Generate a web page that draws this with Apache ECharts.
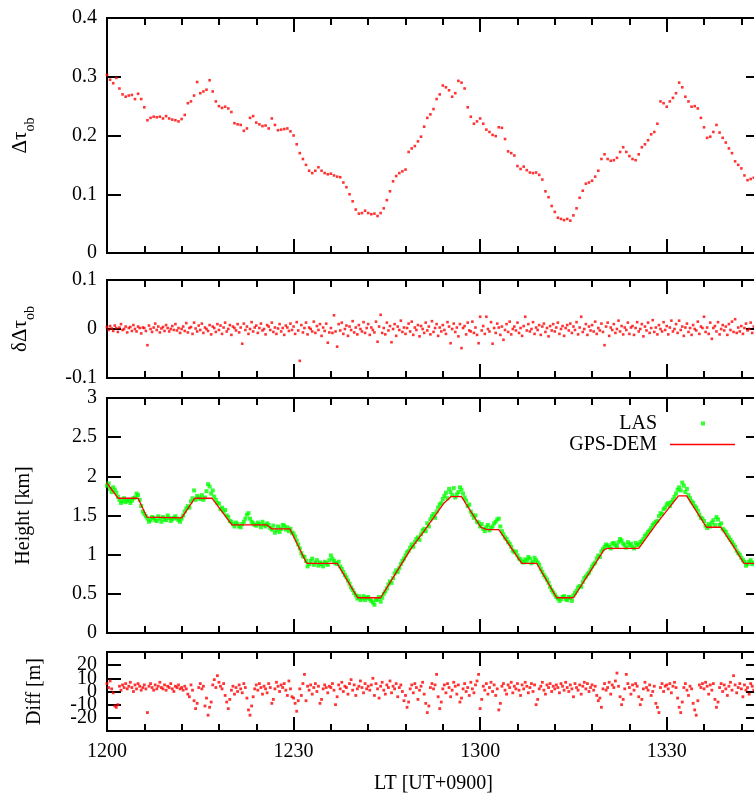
<!DOCTYPE html>
<html><head><meta charset="utf-8">
<script src="https://cdn.jsdelivr.net/npm/echarts@6/dist/echarts.min.js"></script>
<style>html,body{margin:0;padding:0;background:#fff}#c{width:754px;height:794px}</style>
</head><body><div id="c"></div><script>
// ---------------- DATA ----------------
// time in minutes after 12:00 LT
const xTickLabels = ['1200', '1230', '1300', '1330'];
const halfMinuteStep = 0.5;     // sampling of tauOb [min]
const quarterMinuteStep = 0.25; // sampling of dTauObMilli, lasHeightKm and diffM [min]

const tauOb = [
.303,.295,.289,.298,.280,.270,.266,.268,.269,.262,.271,.262,
.248,.226,.230,.232,.231,.232,.229,.233,.229,.227,.226,.224,
.228,.235,.255,.258,.268,.291,.272,.275,.278,.294,.275,.258,
.250,.247,.249,.246,.240,.221,.219,.218,.208,.212,.230,.233,
.222,.219,.216,.217,.212,.229,.218,.209,.210,.211,.212,.207,
.200,.185,.170,.160,.150,.140,.136,.140,.146,.140,.136,.134,
.135,.132,.130,.129,.120,.112,.100,.088,.074,.067,.068,.072,
.068,.066,.067,.063,.068,.076,.090,.105,.122,.131,.136,.139,
.142,.172,.178,.182,.190,.198,.215,.230,.236,.245,.262,.270,
.285,.282,.277,.266,.272,.293,.290,.280,.248,.232,.220,.224,
.229,.220,.210,.206,.201,.199,.214,.213,.194,.173,.170,.166,
.148,.143,.147,.141,.137,.136,.137,.133,.125,.105,.095,.080,
.070,.060,.058,.056,.058,.055,.064,.076,.094,.106,.118,.120,
.123,.130,.140,.160,.168,.160,.157,.158,.162,.172,.180,.172,
.165,.160,.158,.168,.180,.185,.192,.202,.206,.220,.258,.255,
.249,.258,.264,.272,.290,.282,.266,.258,.249,.250,.246,.230,
.214,.196,.198,.206,.218,.205,.196,.188,.178,.170,.156,.150,
.144,.132,.124,.126,.128];

// residual of delta tau, in units of 0.001
const dTauObMilli = [
4,-2,6,1,-4,7,2,-6,3,10,-2,0,5,-7,2,4,-4,8,0,-5,5,2,-9,3,
2,-4,-33,7,0,-6,3,11,-2,5,-7,1,4,-4,8,2,-5,0,6,-2,10,-3,2,-8,
0,5,-4,12,-7,2,4,-10,13,1,-5,7,-2,11,-8,3,0,-4,8,-11,5,2,-6,10,
-2,7,-10,3,13,-5,0,8,-12,5,2,-3,10,-7,3,-30,11,-2,5,-10,0,14,-5,3,
7,-8,2,11,-3,0,-11,8,5,-2,13,-6,3,-10,1,10,-5,2,-12,7,3,-4,11,-2,
5,-10,14,-3,-65,8,-7,2,13,-11,3,0,-5,15,-8,6,-2,10,-14,3,-4,11,-28,-7,
2,-8,28,-5,-36,10,-3,13,-10,0,7,-14,5,-2,16,-7,3,-11,8,0,-5,14,-8,2,
10,-12,3,-2,-7,15,-26,5,29,-8,2,-11,13,-3,6,-27,0,10,-14,5,-2,17,-6,3,
-10,2,11,-5,15,-12,3,-2,8,-15,6,0,-8,13,-3,5,-11,16,-6,2,10,-14,3,-5,
8,-2,-10,14,5,-29,0,11,-6,3,-15,10,-39,2,6,-11,13,-3,-5,15,-8,3,-12,-29,
25,-3,6,-10,25,0,-5,14,-30,2,-8,11,3,-12,5,-22,-2,10,-6,15,-11,0,5,-3,
13,-8,2,-14,6,25,-3,10,-5,0,14,-10,3,-2,8,-12,5,11,-6,2,-15,6,-3,10,
-5,3,13,-10,0,6,-14,2,8,-3,11,-8,5,-2,14,-11,3,25,-6,0,10,-12,5,-3,
8,-5,15,-10,2,-3,11,-6,-33,5,13,-14,3,-2,10,-8,0,17,-5,6,-11,3,-2,13,
-10,3,6,-12,2,14,-5,0,10,-15,5,-3,13,-8,2,18,-6,3,-11,8,0,-5,14,-2,
6,-11,3,17,-5,0,10,-8,17,-2,5,-14,3,11,-6,2,-12,8,0,-3,15,-10,5,2,
25,-6,3,-10,13,-20,2,6,-5,14,-11,0,8,-3,5,-12,10,-2,15,-6,20,-8,3,-5,
6,-10,2,11,-3,0,13,-8,5];

const lasHeightKm = [
1.88,1.91,1.84,1.80,1.86,1.83,1.79,1.74,1.70,1.66,1.68,1.72,1.67,1.69,1.70,1.66,1.69,1.72,1.73,1.78,1.76,1.70,1.62,1.55,
1.52,1.49,1.46,1.42,1.44,1.48,1.47,1.44,1.43,1.49,1.46,1.42,1.48,1.45,1.44,1.50,1.47,1.43,1.45,1.47,1.49,1.46,1.44,1.42,
1.46,1.50,1.55,1.59,1.62,1.60,1.68,1.72,1.82,1.70,1.75,1.73,1.71,1.76,1.70,1.73,1.81,1.90,1.87,1.78,1.82,1.74,1.70,1.66,
1.65,1.58,1.60,1.55,1.57,1.50,1.48,1.43,1.42,1.39,1.36,1.41,1.39,1.36,1.35,1.39,1.42,1.46,1.51,1.53,1.46,1.42,1.40,1.38,
1.37,1.41,1.39,1.35,1.42,1.38,1.36,1.40,1.38,1.34,1.32,1.37,1.28,1.31,1.36,1.29,1.33,1.38,1.37,1.32,1.35,1.30,1.33,1.28,
1.27,1.23,1.18,1.13,1.08,1.02,0.98,0.97,0.92,0.85,0.88,0.92,0.95,0.87,0.90,0.93,0.86,0.90,0.88,0.85,0.91,0.89,0.87,0.93,
0.99,0.95,0.92,0.89,0.88,0.91,0.85,0.82,0.78,0.74,0.71,0.67,0.63,0.58,0.55,0.51,0.48,0.44,0.47,0.42,0.44,0.47,0.42,0.45,
0.46,0.43,0.41,0.39,0.36,0.42,0.43,0.46,0.40,0.45,0.50,0.53,0.57,0.62,0.66,0.64,0.70,0.76,0.80,0.78,0.83,0.88,0.92,0.95,
0.99,1.03,1.05,1.09,1.13,1.10,1.16,1.20,1.22,1.19,1.26,1.31,1.33,1.30,1.40,1.36,1.45,1.49,1.52,1.47,1.55,1.60,1.64,1.66,
1.71,1.75,1.79,1.72,1.84,1.80,1.76,1.85,1.73,1.77,1.80,1.86,1.83,1.78,1.73,1.69,1.62,1.64,1.55,1.51,1.47,1.50,1.42,1.41,
1.36,1.39,1.33,1.30,1.35,1.38,1.31,1.34,1.36,1.40,1.42,1.45,1.46,1.36,1.30,1.26,1.22,1.20,1.16,1.14,1.10,1.05,1.03,1.04,
0.99,0.95,0.94,0.91,0.90,0.94,0.92,0.97,0.95,0.89,0.91,0.96,0.93,0.90,0.87,0.82,0.78,0.74,0.71,0.68,0.64,0.59,0.55,0.52,
0.49,0.46,0.44,0.41,0.43,0.46,0.47,0.43,0.42,0.46,0.45,0.41,0.48,0.51,0.54,0.58,0.60,0.59,0.65,0.70,0.72,0.75,0.77,0.81,
0.85,0.88,0.90,0.95,0.99,0.97,1.04,1.07,1.10,1.13,1.12,1.10,1.08,1.14,1.15,1.12,1.11,1.16,1.20,1.18,1.14,1.12,1.09,1.16,
1.12,1.14,1.10,1.08,1.15,1.12,1.13,1.16,1.17,1.20,1.24,1.26,1.29,1.31,1.34,1.38,1.40,1.42,1.43,1.49,1.53,1.52,1.58,1.60,
1.64,1.66,1.62,1.67,1.70,1.74,1.78,1.83,1.86,1.82,1.92,1.88,1.80,1.84,1.76,1.72,1.68,1.66,1.62,1.60,1.56,1.51,1.47,1.46,
1.43,1.37,1.34,1.39,1.36,1.41,1.44,1.38,1.48,1.45,1.38,1.40,1.33,1.31,1.29,1.25,1.22,1.19,1.16,1.13,1.10,1.05,1.02,1.00,
0.96,0.93,0.91,0.86,0.88,0.91,0.93,0.88,0.90];

const gpsDemTimes = [0,1.8,5,6.4,12,14.1,16.9,20.1,25.7,26.5,29.4,32.1,37,37.9,40.3,44,46.1,48.9,50.9,54.2,55.3,57,60.1,61.1,63,66.7,69.1,72.3,75,79.9,80.4,85.5,88.4,91.1,91.9,93.2,96.4,98.7,100.8,102.4,105];
const gpsDemHeightKm = [1.915,1.72,1.72,1.48,1.47,1.72,1.72,1.38,1.38,1.33,1.33,0.89,0.89,0.77,0.45,0.45,0.72,1.08,1.29,1.66,1.74,1.74,1.35,1.32,1.32,0.89,0.89,0.45,0.45,1.06,1.08,1.08,1.40,1.67,1.75,1.75,1.35,1.35,1.10,0.89,0.89];

const diffM = [
6,3,8,2,-1,-11,-12,-10,4,1,5,3,6,2,4,7,3,0,5,2,6,4,1,3,
5,2,-16,4,6,3,1,5,2,4,7,3,2,5,1,4,3,6,2,0,4,3,5,2,
3,1,4,2,-2,-4,5,1,-7,-13,-9,3,6,2,4,-11,-5,-18,-12,-8,5,9,3,12,
7,4,2,6,-3,-8,-13,-6,1,4,-2,3,0,5,2,-1,6,3,-5,-14,-18,-11,-4,2,
5,1,6,3,-2,4,2,-1,6,3,-9,-6,2,7,4,0,5,3,6,1,-3,8,2,-4,
-5,-9,-15,-7,2,-3,6,13,-7,4,1,5,-2,3,6,0,4,-9,-6,2,5,3,-1,4,
3,6,1,-10,-4,5,2,7,0,4,3,-2,6,9,1,5,-3,2,4,8,3,-1,6,2,
4,1,5,10,-3,6,2,-5,4,7,1,-2,5,3,8,-1,4,2,6,-4,3,5,0,-7,
-3,-12,-8,2,5,-1,6,3,-6,1,4,7,-2,-9,-16,-11,3,6,2,5,13,-4,-13,-8,
2,5,-1,6,3,-4,1,7,4,-2,5,-8,-5,2,6,0,3,-3,7,2,-1,5,8,13,
-13,-6,4,1,6,-2,3,7,0,5,-3,2,-14,-9,4,6,1,-2,5,3,7,-1,4,2,
6,1,-3,5,2,7,4,-1,3,6,0,5,-10,-6,2,4,7,1,-2,5,3,6,0,4,
2,5,3,-1,6,4,1,7,3,0,5,2,-4,6,3,1,5,-2,4,7,2,6,0,3,
5,1,4,-3,-7,-5,-12,2,6,1,3,7,-2,5,3,8,14,4,-4,-10,-6,2,13,6,
3,-2,5,1,6,4,-4,-10,-6,2,7,3,1,5,-3,0,4,-9,-12,-16,3,6,0,4,
5,2,6,-1,4,7,3,-5,-12,-16,-8,3,6,1,-3,4,2,-9,-14,-18,-7,5,3,6,
2,7,4,-2,5,1,6,-6,-12,-8,3,6,0,5,2,-3,4,7,1,12,5,-1,3,6,
2,-4,5,1,3,-2,6,4,1];

// ---------------- CHART ----------------
const FONT = 'Liberation Serif';
const X_MAX = 105;
const grids = [
  {top: 18, height: 235},
  {top: 280, height: 98},
  {top: 398, height: 235},
  {top: 652, height: 79}
];
const subRich = {
  m: {fontFamily: FONT, fontSize: 21, color: '#000', verticalAlign: 'bottom', padding: [0, 0, 6, 0]},
  s: {fontFamily: FONT, fontSize: 14, color: '#000', verticalAlign: 'bottom'}
};
const yCfg = [
  {min: 0, max: 0.4, interval: 0.1, name: '{m|Δτ}{s|ob}', gap: 70, hideEnds: false},
  {min: -0.1, max: 0.1, interval: 0.1, name: '{m|δΔτ}{s|ob}', gap: 70, hideEnds: false},
  {min: 0, max: 3, interval: 0.5, name: 'Height [km]', gap: 73, hideEnds: false},
  {min: -30, max: 30, interval: 10, name: 'Diff [m]', gap: 62, hideEnds: true}
];
const tickStyle = {color: '#000', width: 2};
const xAxes = [], yAxes = [];
grids.forEach((g, i) => {
  const last = i === 3;
  const base = {gridIndex: i, type: 'value', min: 0, max: X_MAX,
    axisLine: {show: false, onZero: false}, splitLine: {show: false}};
  ['bottom', 'top'].forEach(pos => {
    xAxes.push(Object.assign({}, base, {
      position: pos, interval: 30,
      axisTick: {inside: true, length: 14, lineStyle: tickStyle},
      axisLabel: {show: last && pos === 'bottom', showMaxLabel: false, margin: 11,
        fontFamily: FONT, fontSize: 20, color: '#000',
        formatter: v => xTickLabels[Math.round(v / 30)] || ''},
      name: (last && pos === 'bottom') ? 'LT [UT+0900]' : '',
      nameLocation: 'middle', nameGap: 43, nameMoveOverlap: false,
      nameTextStyle: {fontFamily: FONT, fontSize: 20, color: '#000'}
    }));
    xAxes.push(Object.assign({}, base, {
      position: pos, interval: 6,
      axisTick: {inside: true, length: 7, lineStyle: tickStyle},
      axisLabel: {show: false}
    }));
  });
  const c = yCfg[i];
  ['left', 'right'].forEach(pos => {
    yAxes.push({
      gridIndex: i, type: 'value', position: pos, min: c.min, max: c.max, interval: c.interval,
      axisLine: {show: false, onZero: false}, splitLine: {show: false},
      axisTick: {inside: true, length: 14, lineStyle: tickStyle},
      axisLabel: {show: pos === 'left', margin: 10, fontFamily: FONT, fontSize: 20, color: '#000',
        showMinLabel: !c.hideEnds, showMaxLabel: !c.hideEnds},
      name: pos === 'left' ? c.name : '',
      nameLocation: 'middle', nameGap: c.gap, nameMoveOverlap: false,
      nameTextStyle: {fontFamily: FONT, fontSize: 20, color: '#000', rich: subRich}
    });
  });
});

const option = {
  animation: false,
  backgroundColor: '#fff',
  grid: grids.map(g => ({left: 107, width: 653, top: g.top, height: g.height,
    show: true, borderColor: '#000', borderWidth: 2, backgroundColor: 'transparent',
    containLabel: false, outerBoundsMode: 'none'})),
  xAxis: xAxes,
  yAxis: yAxes,
  legend: {
    orient: 'vertical', right: 19, top: 413, align: 'right',
    itemWidth: 65, itemHeight: 6, itemGap: 0, padding: 0, selectedMode: false,
    textStyle: {fontFamily: FONT, fontSize: 20, color: '#000', lineHeight: 21, padding: [0, 8, 0, 0]},
    data: [
      {name: 'LAS', icon: 'path://M0 0M65 6M31 1h4v4h-4z'},
      {name: 'GPS-DEM', icon: 'path://M0 0M65 6M0 2.3h65v1.4h-65z'}
    ]
  },
  series: [
    {type: 'scatter', name: 'dtau', xAxisIndex: 0, yAxisIndex: 0, symbol: 'rect', symbolSize: 2.6,
      itemStyle: {color: '#ff0000'}, silent: true,
      data: tauOb.map((v, k) => [k * halfMinuteStep, v])},
    {type: 'scatter', name: 'ddtau', xAxisIndex: 4, yAxisIndex: 2, symbol: 'rect', symbolSize: 2.6,
      itemStyle: {color: '#ff0000'}, silent: true,
      data: dTauObMilli.map((v, k) => [k * quarterMinuteStep, v / 1000])},
    {type: 'scatter', name: 'LAS', xAxisIndex: 8, yAxisIndex: 4, symbol: 'rect', symbolSize: 4,
      itemStyle: {color: '#00ff00'}, silent: true,
      data: lasHeightKm.map((v, k) => [k * quarterMinuteStep, v])},
    {type: 'line', name: 'GPS-DEM', xAxisIndex: 8, yAxisIndex: 4, symbol: 'none', z: 5,
      lineStyle: {color: '#ff0000', width: 1.3}, itemStyle: {color: '#ff0000'}, silent: true,
      data: gpsDemTimes.map((t, k) => [t, gpsDemHeightKm[k]])},
    {type: 'scatter', name: 'diff', xAxisIndex: 12, yAxisIndex: 6, symbol: 'rect', symbolSize: 2.8,
      itemStyle: {color: '#ff0000'}, silent: true,
      data: diffM.map((v, k) => [k * quarterMinuteStep, v])}
  ]
};
const chart = echarts.init(document.getElementById('c'), null, {renderer: 'canvas'});
chart.setOption(option);
</script></body></html>
